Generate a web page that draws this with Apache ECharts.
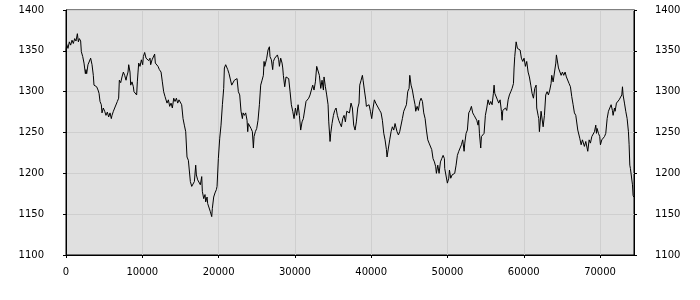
<!DOCTYPE html>
<html>
<head>
<meta charset="utf-8">
<script src="https://cdn.jsdelivr.net/npm/echarts@6/dist/echarts.min.js"></script>
<style>html,body{margin:0;padding:0;background:#fff}#c{width:700px;height:300px}</style>
</head>
<body>
<div id="c"></div>
<script>
const xs = [0,90,260,440,610,790,960,1140,1310,1490,1620,1750,1920,2010,2190,2360,2540,2620,2710,2880,3060,3230,3410,3580,3670,3850,4020,4200,4330,4460,4630,4720,4890,5070,5240,5420,5590,5770,5940,6030,6210,6380,6560,6730,6900,6990,7170,7340,7520,7690,7870,7950,8130,8220,8390,8480,8650,8830,8910,9090,9260,9350,9440,9530,9700,9880,10050,10140,10310,10490,10660,10840,11010,11100,11280,11450,11620,11710,11890,12060,12240,
12460,12630,12800,12980,13150,13240,13420,13590,13770,13940,14120,14290,14470,14640,14810,14990,15160,15340,15510,15690,15860,16040,16210,16300,16480,16650,16830,17000,17090,17260,17440,17610,17790,17870,18050,18220,18310,18490,18570,18750,18920,19100,19180,19360,19530,19710,19800,19970,20150,20320,20500,20670,20760,20930,21110,21200,21370,21540,21720,21890,22070,22240,22420,22590,22770,22940,23120,23210,23380,23550,23730,23820,23900,24080,24250,24430,
24560,24650,24820,25000,25170,25350,25520,25700,25870,25960,26050,26220,26310,26480,26660,26740,26920,27090,27180,27360,27530,27710,27880,27970,28140,28320,28410,28490,28670,28840,29020,29190,29370,29540,29720,29890,30070,30240,30420,30590,30760,30940,31110,31290,31460,31640,31810,31990,32160,32340,32510,32690,32860,33040,33210,33390,33560,33740,33820,34000,34170,34350,34440,34610,34700,34870,35050,35220,35400,35570,35750,35920,36100,36270,36450,36620,36800,36970,37150,
37360,37540,37710,37890,38060,38240,38410,38500,38680,38850,38940,39110,39290,39370,39550,39720,39900,40070,40250,40420,40600,40770,40950,41120,41300,41470,41650,41820,42000,42080,42260,42430,42610,42780,42960,43130,43310,43390,43570,43740,43920,44090,44270,44440,44620,44710,44790,44970,45060,45230,45400,45580,45750,45840,46020,46190,46370,46540,46720,46890,47070,47240,47420,47590,47760,47940,48110,48290,48460,48550,48730,48900,49080,49250,49430,49600,
49640,49820,49990,50170,50260,50430,50600,50780,50950,51130,51300,51480,51650,51830,52000,52180,52270,52440,52610,52790,52960,53140,53310,53490,53660,53840,54010,54100,54190,54360,54450,54630,54800,54970,55150,55320,55500,55670,55850,56020,56110,56200,56370,56550,56720,56900,57070,57160,57250,57420,57600,57770,57950,58120,58300,58470,58650,58730,58820,59000,59170,59340,59520,59690,59870,60040,60220,60390,60570,60740,60920,61090,61270,61440,61620,61700,61880,61970,62050,
62270,62450,62540,62710,62880,63060,63230,63410,63580,63670,63850,64020,64200,64280,64460,64550,64720,64900,65070,65240,65420,65590,65770,65940,66120,66290,66470,66640,66820,66990,67080,67250,67340,67520,67690,67870,67950,68130,68300,68390,68570,68740,68920,69090,69270,69440,69530,69610,69790,69960,70050,70230,70400,70580,70750,70930,71100,71280,71450,71620,71710,71890,71970,72150,72320,72500,72670,72850,72940,73020,73200,73370,73550,73720,73810,73900,73980,74160,74250,74330,74420];
const ys = [1350,1358,1353,1361,1357,1363,1359,1365,1362,1371,1361,1365,1362,1349,1343,1335,1322,1327,1322,1333,1335,1341,1333,1320,1308,1307,1306,1302,1298,1288,1284,1274,1280,1276,1271,1275,1269,1274,1267,1271,1276,1280,1282,1288,1292,1314,1311,1318,1324,1320,1314,1318,1324,1333,1324,1308,1312,1306,1300,1298,1296,1312,1324,1335,1331,1339,1333,1343,1348,1341,1343,1338,1341,1333,1339,1341,1346,1335,1333,1331,1327,
1324,1312,1300,1294,1296,1286,1290,1282,1286,1280,1292,1288,1292,1286,1290,1288,1284,1267,1259,1251,1220,1216,1214,1190,1184,1182,1190,1210,1198,1192,1190,1186,1196,1178,1169,1174,1165,1171,1163,1161,1153,1147,1157,1171,1176,1180,1184,1218,1243,1259,1284,1304,1329,1333,1333,1327,1322,1324,1308,1310,1314,1312,1316,1300,1296,1276,1267,1274,1271,1274,1265,1251,1261,1259,1255,1251,
1231,1245,1251,1255,1265,1284,1308,1314,1320,1337,1331,1333,1341,1351,1355,1343,1339,1327,1337,1341,1343,1345,1339,1331,1341,1335,1329,1320,1306,1318,1318,1316,1300,1284,1276,1267,1280,1271,1284,1271,1253,1263,1267,1265,1288,1290,1292,1296,1302,1308,1302,1312,1331,1329,1320,1304,1314,1302,1318,1306,1296,1284,1263,1239,1249,1261,1271,1277,1280,1271,1265,1261,1257,1267,1271,1263,1276,1274,1274,
1286,1280,1259,1253,1263,1280,1286,1308,1314,1320,1314,1302,1290,1282,1282,1284,1276,1267,1280,1290,1286,1286,1280,1277,1274,1265,1249,1241,1229,1220,1231,1241,1251,1257,1253,1261,1263,1251,1247,1251,1249,1267,1276,1274,1284,1292,1300,1304,1320,1308,1302,1292,1284,1276,1282,1277,1288,1292,1288,1274,1267,1253,1241,1237,1235,1229,1218,1214,1208,1200,1210,1200,1214,1218,1222,1218,
1206,1204,1188,1194,1204,1194,1198,1196,1200,1210,1222,1227,1229,1235,1241,1227,1237,1249,1253,1274,1277,1282,1274,1271,1271,1265,1259,1265,1249,1231,1245,1245,1249,1271,1280,1290,1284,1288,1284,1298,1308,1298,1296,1290,1286,1290,1276,1265,1277,1276,1280,1277,1290,1296,1300,1304,1310,1329,1343,1361,1353,1353,1351,1341,1337,1341,1331,1337,1324,1318,1308,1298,1292,1304,1308,1280,1271,1267,1251,
1276,1277,1257,1271,1296,1300,1296,1302,1310,1320,1312,1312,1335,1345,1343,1329,1331,1320,1324,1320,1324,1318,1318,1310,1306,1294,1284,1274,1271,1269,1253,1251,1243,1235,1241,1243,1233,1239,1231,1227,1241,1237,1245,1243,1251,1259,1249,1255,1249,1245,1235,1241,1243,1245,1249,1267,1276,1277,1284,1277,1271,1280,1276,1286,1286,1290,1292,1296,1306,1296,1286,1276,1267,1251,1235,1210,1206,1208,1186,1173,1171];
const xTicks = [0,10000,20000,30000,40000,50000,60000,70000];
const yMin = 1100, yMax = 1400, yStep = 50;

const data = xs.map((x, i) => [x, ys[i]]);
const plain = v => String(v);
const font = {color:'#000', fontFamily:'DejaVu Sans', fontSize:10, formatter:plain};
const chart = echarts.init(document.getElementById('c'), null, {renderer:'canvas'});
const yAxisBase = (pos, margin, split) => ({
  type:'value', position:pos, min:yMin, max:yMax, interval:yStep,
  axisLine:{show:true, lineStyle:{color:'#000', width:1}},
  axisTick:{show:true, length:3, lineStyle:{color:'#000'}},
  axisLabel:Object.assign({margin:margin}, font),
  splitLine:{show:split, lineStyle:{color:'#cfcfcf', width:1}}
});
chart.setOption({
  animation:false,
  backgroundColor:'#fff',
  grid:{left:66, right:66, top:10, bottom:45, show:true, backgroundColor:'#e0e0e0', borderColor:'#000', borderWidth:1, containLabel:false},
  xAxis:{type:'value', min:xTicks[0], max:74450, interval:10000,
    axisLine:{show:true, lineStyle:{color:'#000'}},
    axisTick:{show:true, length:3, lineStyle:{color:'#000'}},
    axisLabel:Object.assign({margin:12, showMaxLabel:false}, font),
    splitLine:{show:true, lineStyle:{color:'#cfcfcf', width:1}}},
  yAxis:[yAxisBase('left', 22, true), yAxisBase('right', 21, false)],
  series:[{type:'line', data:data, showSymbol:false, symbol:'none', smooth:false,
    lineStyle:{color:'#000', width:1}, yAxisIndex:0}]
});
</script>
</body>
</html>
